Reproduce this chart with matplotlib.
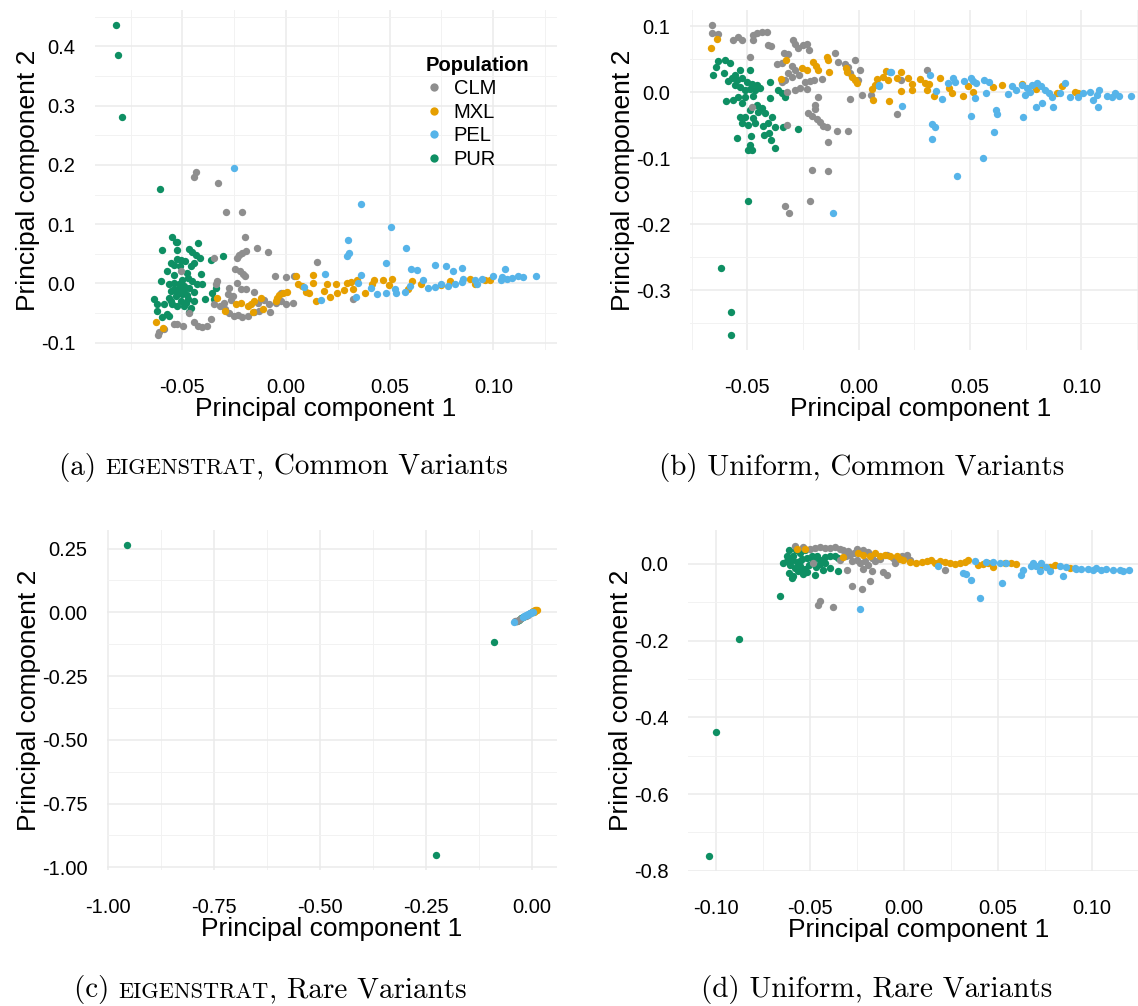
import matplotlib
matplotlib.use("Agg")
import matplotlib.pyplot as plt
from matplotlib.ticker import MultipleLocator, FormatStrFormatter
from matplotlib.lines import Line2D
from matplotlib.offsetbox import TextArea, HPacker, AnnotationBbox

plt.rcParams['font.family'] = ['Liberation Sans', 'DejaVu Sans']
plt.rcParams['axes.unicode_minus'] = False

# ---------------------------------------------------------------------------
# datos: (PC1, PC2) por poblacion y panel
# ---------------------------------------------------------------------------
pops = ["CLM", "MXL", "PEL", "PUR"]
colores = {"CLM": "#8E8E8E", "MXL": "#E69F00", "PEL": "#56B4E9", "PUR": "#0E8F63"}

# (a) EIGENSTRAT, comunes
a_pur_x = [-0.082, -0.081, -0.079, -0.0606, -0.0548, -0.0532, -0.0524, -0.0597, -0.0527, -0.0424, -0.0468,
           -0.0452, -0.0435, -0.0415, -0.0524, -0.0505, -0.0489, -0.0556, -0.0540, -0.0511, -0.0460, -0.0444,
           -0.0576, -0.0476, -0.0408, -0.0360, -0.0306, -0.0605, -0.0565, -0.0540, -0.0516, -0.0492,
           -0.0452, -0.0427, -0.0403, -0.0339, -0.0355, -0.0556, -0.0524, -0.0500, -0.0476, -0.0444, -0.0532,
           -0.0565, -0.0508, -0.0473, -0.0637, -0.0621, -0.0589, -0.0548, -0.0524, -0.0492, -0.0460, -0.0392,
           -0.0347, -0.0621, -0.0573, -0.0597, -0.0565, -0.0468, -0.0540, -0.0516, -0.0492, -0.0468, -0.0556,
           -0.0484, -0.0444, -0.0500, -0.0473, -0.0540]
a_pur_y = [0.435, 0.386, 0.281, 0.159, 0.0778, 0.0706, 0.0694, 0.0556, 0.0567, 0.0689, 0.0578,
           0.0539, 0.0483, 0.0428, 0.0411, 0.0389, 0.0372, 0.0344, 0.0317, 0.0289, 0.0289, 0.0344,
           0.0206, 0.0178, 0.0167, 0.0389, 0.0456, 0.0039, -0.0017, 0.0011, -0.0017, -0.0044,
           0.0039, -0.0017, -0.0017, -0.0072, -0.0156, -0.0128, -0.0156, -0.0183, -0.0200, -0.0144, -0.0211,
           -0.0239, -0.0294, -0.0267, -0.0267, -0.0350, -0.0350, -0.0350, -0.0378, -0.0378, -0.0406, -0.0267,
           -0.0267, -0.0461, -0.0517, -0.0572, -0.0544, -0.0489, -0.0100, -0.0089, -0.0111, -0.0072, -0.0294,
           -0.0322, -0.0294, 0.0067, 0.0094, 0.0150]
a_clm_x = [-0.0434, -0.0442, -0.0329, -0.0288, -0.0214, -0.0196, -0.0142, -0.0089, -0.0194, -0.0210,
           -0.0226, -0.0237, -0.0347, -0.0506, -0.0247, -0.0221, -0.0205, -0.0198, -0.0052, 0.0000,
           0.0040, 0.0150, -0.0331, -0.0339, -0.0274, -0.0234, -0.0218, -0.0194, -0.0156, -0.0282,
           -0.0258, -0.0266, -0.0298, -0.0318, -0.0295, -0.0274, -0.0253, -0.0231, -0.0210, -0.0185,
           -0.0156, -0.0129, -0.0105, -0.0076, -0.0137, -0.0081, -0.0048, -0.0024, 0.0000, 0.0032,
           -0.0347, -0.0468, -0.0524, -0.0495, -0.0444, -0.0424, -0.0403, -0.0379, -0.0363, -0.0540,
           -0.0589, -0.0613, -0.0618, 0.0323, -0.0024]
a_clm_y = [0.188, 0.180, 0.170, 0.120, 0.1206, 0.0778, 0.060, 0.0528, 0.055, 0.0522,
           0.0483, 0.0428, 0.0428, 0.0206, 0.025, 0.0206, 0.0167, 0.0133, 0.0122, 0.0106,
           0.0122, 0.0361, 0.0039, -0.0017, -0.0072, 0.0, -0.0089, -0.0089, -0.0144, -0.0183,
           -0.0211, -0.0278, -0.0322, -0.0378, -0.0433, -0.0500, -0.0544, -0.0533, -0.0572, -0.0544,
           -0.0489, -0.0461, -0.0278, -0.0489, -0.0322, -0.0350, -0.0322, -0.0294, -0.0350, -0.0333,
           -0.0350, -0.0500, -0.0683, -0.0711, -0.0656, -0.0711, -0.0739, -0.0711, -0.0600, -0.0683,
           -0.0767, -0.0811, -0.0861, -0.0267, -0.0156]
a_mxl_x = [-0.0629, -0.0594, -0.0334, -0.0295, -0.0242, -0.0218, -0.0185, -0.0169, -0.0153, -0.0121,
           -0.0161, -0.0113, -0.0044, -0.0032, -0.0016, 0.0005, -0.0048, 0.0048, 0.0060, 0.0076,
           0.0129, 0.0129, 0.0097, 0.0113, 0.0145, 0.0185, 0.0198, 0.0210, 0.0242, 0.0247,
           0.0282, 0.0295, 0.0315, 0.0344, 0.0323, 0.0379, 0.0415, 0.0424, 0.0469, 0.0495,
           0.0513, 0.0589, 0.0608, 0.0650, 0.0747, 0.0790, 0.0887, 0.0911, 0.0960, 0.0984]
a_mxl_y = [-0.0656, -0.0750, -0.0239, -0.0472, -0.0350, -0.0333, -0.0378, -0.0350, -0.0294, -0.0239,
           -0.0489, -0.0433, -0.0239, -0.0200, -0.0167, -0.0144, -0.0294, 0.0122, -0.0017, -0.0044,
           0.0139, 0.0, -0.0144, -0.0167, -0.0294, -0.0128, -0.0017, -0.0222, -0.0017, -0.0167,
           -0.0111, 0.0, 0.0022, 0.0067, -0.0089, -0.0167, -0.0017, 0.0056, 0.0067, -0.0033,
           0.0083, -0.0100, 0.0039, -0.0017, -0.0033, 0.0050, 0.0078, -0.0006, 0.0067, 0.0067]
a_pel_x = [-0.0249, 0.0363, 0.0508, 0.0581, 0.0298, 0.0303, 0.0295, 0.0484, 0.0605, 0.0634,
           0.0718, 0.0774, 0.0806, 0.0850, 0.1056, 0.0363, 0.0189, 0.0089, 0.0169, 0.0339,
           0.0347, 0.0411, 0.0440, 0.0484, 0.0524, 0.0532, 0.0573, 0.0597, 0.0661, 0.0685,
           0.0718, 0.0750, 0.0782, 0.0815, 0.0847, 0.0855, 0.0911, 0.0944, 0.1000, 0.1037,
           0.1065, 0.1089, 0.1118, 0.1145, 0.1206, 0.1040, 0.0919]
a_pel_y = [0.1944, 0.1333, 0.0956, 0.0594, 0.0733, 0.0511, 0.0467, 0.0344, 0.0250, 0.0222,
           0.0311, 0.0289, 0.0206, 0.0267, 0.0250, 0.0139, 0.0167, -0.0056, -0.0278, -0.0222,
           0.0011, -0.0072, -0.0183, -0.0156, -0.0100, -0.0167, -0.0144, -0.0044, 0.0067, -0.0072,
           -0.0056, -0.0017, -0.0044, -0.0017, 0.0022, 0.0078, 0.0067, 0.0078, 0.0122, 0.0067,
           0.0078, 0.0094, 0.0133, 0.0111, 0.0122, 0.0110, -0.0017]

# (b) Uniform, comunes
b_pur_x = [-0.0497, -0.0617, -0.0575, -0.0571, -0.063, -0.060, -0.0578, -0.0642, -0.0603, -0.0653,
           -0.0555, -0.0533, -0.0488, -0.057, -0.0585, -0.0548, -0.0525, -0.0503, -0.0481, -0.0458,
           -0.0555, -0.0533, -0.051, -0.0488, -0.0466, -0.0443, -0.0398, -0.0361, -0.0346, -0.0331,
           -0.0597, -0.0563, -0.054, -0.051, -0.0473, -0.0398, -0.0525, -0.0458, -0.0436, -0.0488,
           -0.0451, -0.0421, -0.0533, -0.051, -0.0473, -0.0391, -0.0525, -0.0496, -0.0466, -0.0428,
           -0.0406, -0.0376, -0.0338, -0.0274, -0.0548, -0.0484, -0.0424, -0.0403, -0.0394, -0.0488,
           -0.0481, -0.0496, -0.0376]
b_pur_y = [-0.165, -0.266, -0.334, -0.3675, 0.0473, 0.0493, 0.0442, 0.0382, 0.0292, 0.0256,
           0.0256, 0.0342, 0.0332, 0.0206, 0.0171, 0.0181, 0.0206, 0.0156, 0.0121, 0.0106,
           0.0106, 0.007, 0.003, 0.004, 0.003, 0.0055, 0.0156, 0.003, -0.002, -0.008,
           -0.0131, -0.0121, -0.008, -0.007, -0.006, -0.0096, -0.0171, -0.0196, -0.0246, -0.0271,
           -0.0297, -0.0322, -0.0372, -0.0382, -0.0397, -0.0372, -0.0473, -0.0498, -0.0473, -0.0513,
           -0.0473, -0.0533, -0.0533, -0.0563, -0.0699, -0.0664, -0.0649, -0.0623, -0.0724, -0.0799,
           -0.0875, -0.0875, -0.084]
b_clm_x = [-0.066, -0.066, -0.0633, -0.0563, -0.054, -0.0522, -0.0473, -0.0458, -0.0436, -0.0413,
           -0.0473, -0.0406, -0.0394, -0.0293, -0.0286, -0.0271, -0.0249, -0.0234, -0.0223, -0.0334,
           -0.0316, -0.0346, -0.0368, -0.0301, -0.0286, -0.0316, -0.0331, -0.0301, -0.0268, -0.0241,
           -0.0219, -0.0199, -0.0166, -0.0234, -0.0263, -0.0286, -0.0346, -0.0323, -0.0488, -0.0106,
           -0.0091, -0.0061, -0.0046, -0.0016, 0.0006, -0.0039, -0.0001, 0.0013, 0.0055, -0.0039,
           -0.0181, -0.0196, -0.0196, -0.0226, -0.0211, -0.0189, -0.0174, -0.0159, -0.0144, -0.0099,
           -0.0049, -0.0323, -0.0139, 0.0171, 0.0305, 0.019, -0.0208, -0.0136, -0.0481, -0.0332,
           -0.0312, -0.0218]
b_clm_y = [0.101, 0.0895, 0.0875, 0.0794, 0.0835, 0.0784, 0.086, 0.0895, 0.091, 0.091,
           0.0794, 0.0709, 0.0694, 0.0794, 0.0734, 0.0674, 0.0709, 0.0724, 0.0644, 0.0593,
           0.0573, 0.0442, 0.0432, 0.0392, 0.0342, 0.0282, 0.0181, 0.0231, 0.0256, 0.0156,
           0.0171, 0.0181, 0.0191, 0.004, 0.0055, 0.003, 0.0156, 0.0005, 0.0533, 0.0593,
           0.0458, 0.0432, 0.0382, 0.0483, 0.0342, 0.0282, 0.0181, -0.0045, -0.0045, -0.0111,
           -0.008, -0.0196, -0.0261, -0.0322, -0.0362, -0.0412, -0.0447, -0.0513, -0.0523, -0.0583,
           -0.0583, -0.0498, -0.0764, -0.0332, 0.0342, 0.0181, -0.1176, -0.1192, -0.0221, -0.173,
           -0.183, -0.165]
b_mxl_x = [-0.0663, -0.0638, -0.0328, -0.0349, -0.0256, -0.0234, -0.0204, -0.0193, -0.0181, -0.0144,
           -0.0136, -0.0133, -0.0058, -0.0054, -0.0031, -0.0016, -0.0009, 0.0081, 0.0111, 0.0121,
           0.0133, 0.0171, 0.019, 0.019, 0.0223, 0.0238, 0.0241, 0.0275, 0.0298, 0.0305,
           0.0316, 0.0365, 0.0406, 0.0418, 0.047, 0.049, 0.0515, 0.0605, 0.0642, 0.0735,
           0.0795, 0.0889, 0.0912, 0.0972, 0.0984, 0.0058, 0.0066, 0.0136, 0.034, 0.0073]
b_mxl_y = [0.0674, 0.0804, 0.0493, 0.0201, 0.0372, 0.0342, 0.0458, 0.0392, 0.0332, 0.0533,
           0.0483, 0.0307, 0.0372, 0.0307, 0.0231, 0.0181, 0.0141, 0.0191, 0.0231, 0.0322,
           0.0181, 0.0221, 0.0307, 0.002, 0.0221, 0.0121, 0.003, 0.0191, 0.0141, 0.003,
           0.0121, 0.0206, 0.0055, -0.002, -0.006, 0.009, 0.0005, 0.008, 0.0106, 0.0121,
           0.004, -0.002, 0.009, 0.0005, -0.001, 0.0045, -0.0121, -0.0131, -0.006, 0.0106]
b_pel_x = [-0.0117, 0.0092, 0.0141, 0.0145, 0.0091, 0.0196, 0.032, 0.0346, 0.0376, 0.0403,
           0.0425, 0.0433, 0.0475, 0.0504, 0.0515, 0.0525, 0.0522, 0.0564, 0.057, 0.0587,
           0.0503, 0.0615, 0.062, 0.0609, 0.056, 0.0443, 0.0328, 0.0343, 0.0331, 0.0669,
           0.0687, 0.0705, 0.0732, 0.0737, 0.0754, 0.0777, 0.0799, 0.0819, 0.0837, 0.0855,
           0.0867, 0.0825, 0.0795, 0.0874, 0.0904, 0.0927, 0.0949, 0.0987, 0.1009, 0.1039,
           0.1054, 0.1069, 0.1079, 0.1076, 0.1114, 0.1136, 0.1151, 0.1169, 0.1223, 0.0747,
           0.0769]
b_pel_y = [-0.183, 0.0101, 0.0306, 0.0297, 0.009, -0.0206, 0.0266, 0.002, -0.0111, 0.0141,
           0.0206, 0.0156, 0.0171, 0.0206, 0.0171, 0.0141, -0.0096, 0.0181, -0.001, 0.0156,
           -0.0362, -0.0271, -0.0332, -0.0598, -0.100, -0.1267, -0.0488, -0.0523, -0.0709, -0.003,
           0.009, 0.003, 0.0106, -0.0372, 0.0055, 0.0106, 0.0141, 0.009, 0.003, -0.002,
           -0.008, -0.0171, -0.0231, -0.0221, -0.001, 0.0141, -0.008, -0.008, -0.001, 0.0005,
           -0.0121, -0.0045, 0.003, -0.0231, -0.006, -0.008, -0.002, -0.006, -0.006, -0.0045,
           0.0005]

# (c) EIGENSTRAT, raras
c_pur_x = [-0.955, -0.227, -0.089, -0.036, -0.030, -0.025, -0.020]
c_pur_y = [0.262, -0.950, -0.117, -0.035, -0.030, -0.024, -0.020]
c_clm_x = [-0.040, -0.038, -0.034, -0.028, -0.015, -0.010, -0.005]
c_clm_y = [-0.036, -0.034, -0.033, -0.027, -0.013, -0.009, -0.004]
c_mxl_x = [0.000, 0.003, 0.005, 0.007, 0.009, 0.011, 0.008, 0.004]
c_mxl_y = [0.002, 0.004, 0.005, 0.007, 0.008, 0.010, 0.006, 0.003]
c_pel_x = [-0.042, -0.022, -0.018, -0.015, -0.012, -0.008, -0.005, -0.002, 0.000, 0.003]
c_pel_y = [-0.037, -0.017, -0.014, -0.011, -0.009, -0.006, -0.003, -0.001, 0.001, 0.003]

# (d) Uniform, raras
d_pur_x = [-0.066, -0.088, -0.0999, -0.1038, -0.061, -0.0574, -0.0621, -0.0589, -0.0553, -0.0527,
           -0.0621, -0.0598, -0.0571, -0.0544, -0.0518, -0.0491, -0.0465, -0.0447, -0.042, -0.0394,
           -0.0367, -0.0349, -0.0606, -0.058, -0.0553, -0.0527, -0.0504, -0.0468, -0.0447, -0.042,
           -0.061, -0.0589, -0.0562, -0.0535, -0.0514, -0.0473, -0.0429, -0.0394, -0.0349, -0.0598,
           -0.0535, -0.0642, -0.0553, -0.0482]
d_pur_y = [-0.084, -0.197, -0.437, -0.760, 0.0357, 0.0357, 0.0217, 0.020, 0.027, 0.0357,
           0.007, 0.0096, 0.0043, 0.013, 0.0157, 0.020, 0.0217, 0.0113, 0.0183, 0.020,
           0.0217, 0.0157, -0.0043, -0.0104, -0.0061, -0.013, -0.0043, -0.0078, -0.0017, 0.0026,
           -0.0235, -0.0322, -0.0191, -0.0252, -0.0217, -0.0278, -0.0165, -0.0104, -0.0174, -0.0365,
           -0.0148, 0.0026, 0.007, 0.007]
d_clm_x = [-0.058, -0.0535, -0.0473, -0.0447, -0.042, -0.0394, -0.0367, -0.034, -0.0323, -0.0296,
           -0.0287, -0.0266, -0.0252, -0.0216, -0.019, -0.0172, -0.0252, -0.0278, -0.0234, -0.0207,
           -0.019, -0.0216, -0.0172, -0.011, -0.0092, -0.0154, -0.0128, -0.0092, -0.0057, -0.0012,
           0.0014, 0.0032, -0.0048, -0.0482, -0.0305, -0.0181, -0.0278, -0.0225, -0.0447, -0.0456,
           -0.0376, 0.0218, -0.0309, -0.034, -0.050]
d_clm_y = [0.0478, 0.0443, 0.0417, 0.0443, 0.0417, 0.0417, 0.0443, 0.0391, 0.0357, 0.033,
           0.0243, 0.0287, 0.0374, 0.0357, 0.0304, 0.0157, 0.0113, 0.007, 0.0026, 0.007,
           -0.0043, -0.013, -0.0191, -0.0217, -0.0278, 0.007, 0.013, 0.0243, 0.0157, 0.0217,
           0.0243, 0.0113, 0.0009, 0.0026, -0.0165, -0.0452, -0.0583, -0.0652, -0.0974, -0.1061,
           -0.1122, -0.0165, 0.020, 0.0096, 0.0391]
d_mxl_x = [-0.0571, -0.0527, -0.0323, -0.0243, -0.0216, -0.0181, -0.0154, -0.0128, -0.0101, -0.0074,
           -0.0039, -0.0021, -0.0004, 0.0032, 0.0067, 0.0094, 0.0121, 0.0147, 0.0165, 0.0191,
           0.0218, 0.0245, 0.0271, 0.0298, 0.0324, 0.0342, 0.0395, 0.0422, 0.0449, 0.0475,
           0.0537, 0.0573, 0.0599, 0.0723, 0.0777, 0.0803, 0.0883]
d_mxl_y = [0.0374, 0.0391, 0.0183, 0.0287, 0.0243, 0.0217, 0.027, 0.0217, 0.0243, 0.020,
           0.0217, 0.013, 0.0113, 0.0043, 0.0026, 0.0043, 0.007, 0.0096, 0.0026, 0.007,
           0.0043, 0.0026, -0.0017, 0.0009, 0.0043, 0.0113, -0.0043, -0.0017, 0.0009, -0.0078,
           0.0009, 0.0026, -0.0009, -0.0061, -0.0078, -0.0043, -0.0104]
d_pel_x = [-0.0234, 0.0404, 0.052, 0.036, 0.0316, 0.0333, 0.0183, 0.0378, 0.044, 0.0475,
           0.051, 0.0546, 0.0626, 0.0635, 0.0688, 0.0706, 0.0732, 0.0723, 0.0759, 0.0777,
           0.083, 0.0848, 0.091, 0.0945, 0.098, 0.1025, 0.1051, 0.1078, 0.1113, 0.1149,
           0.1199, 0.0918, 0.1007, 0.0679, 0.0865, 0.1167]
d_pel_y = [-0.1174, -0.0887, -0.0496, -0.0426, -0.0235, -0.0252, -0.0061, 0.007, 0.0043, 0.0043,
           0.0026, 0.0009, -0.0278, -0.0148, 0.0009, -0.0061, 0.0009, -0.0191, -0.0078, -0.0191,
           -0.0061, -0.0304, -0.0104, -0.013, -0.013, -0.0104, -0.0148, -0.013, -0.0148, -0.0165,
           -0.0165, -0.013, -0.0148, -0.0061, -0.0078, -0.0191]

paneles = [
    {"datos": {"PUR": (a_pur_x, a_pur_y), "CLM": (a_clm_x, a_clm_y), "MXL": (a_mxl_x, a_mxl_y), "PEL": (a_pel_x, a_pel_y)},
     "caja": (95, 10, 462, 340), "paso": (0.05, 0.1), "fmt": ("%.2f", "%.1f"),
     "caption": ("(a) ", "EIGENSTRAT", ", Common Variants"), "cap_xy": (283, 467)},
    {"datos": {"PUR": (b_pur_x, b_pur_y), "CLM": (b_clm_x, b_clm_y), "MXL": (b_mxl_x, b_mxl_y), "PEL": (b_pel_x, b_pel_y)},
     "caja": (690, 10, 462, 340), "paso": (0.05, 0.1), "fmt": ("%.2f", "%.1f"),
     "caption": ("(b) Uniform, Common Variants", "", ""), "cap_xy": (862, 467)},
    {"datos": {"PUR": (c_pur_x, c_pur_y), "CLM": (c_clm_x, c_clm_y), "MXL": (c_mxl_x, c_mxl_y), "PEL": (c_pel_x, c_pel_y)},
     "caja": (107, 530, 450, 340), "paso": (0.25, 0.25), "fmt": ("%.2f", "%.2f"),
     "caption": ("(c) ", "EIGENSTRAT", ", Rare Variants"), "cap_xy": (270, 990)},
    {"datos": {"PUR": (d_pur_x, d_pur_y), "CLM": (d_clm_x, d_clm_y), "MXL": (d_mxl_x, d_mxl_y), "PEL": (d_pel_x, d_pel_y)},
     "caja": (688, 530, 462, 341), "paso": (0.05, 0.2), "fmt": ("%.2f", "%.1f"),
     "caption": ("(d) Uniform, Rare Variants", "", ""), "cap_xy": (877, 990)},
]

W, H = 1138, 1006
fig = plt.figure(figsize=(W / 100, H / 100), dpi=100)

for i, p in enumerate(paneles):
    x0, y0, w, h = p["caja"]
    ax = fig.add_axes([x0 / W, 1 - (y0 + h) / H, w / W, h / H])
    for pop in ["PUR", "CLM", "MXL", "PEL"]:
        xs, ys = p["datos"][pop]
        ax.scatter(xs, ys, s=28, color=colores[pop], linewidths=0, zorder=3)
    ax.margins(0.05)

    px, py = p["paso"]
    ax.xaxis.set_major_locator(MultipleLocator(px))
    ax.xaxis.set_minor_locator(MultipleLocator(px / 2))
    ax.yaxis.set_major_locator(MultipleLocator(py))
    ax.yaxis.set_minor_locator(MultipleLocator(py / 2))
    ax.xaxis.set_major_formatter(FormatStrFormatter(p["fmt"][0]))
    ax.yaxis.set_major_formatter(FormatStrFormatter(p["fmt"][1]))

    ax.grid(which="major", color="#EBEBEB", linewidth=1.1, zorder=0)
    ax.grid(which="minor", color="#F2F2F2", linewidth=0.7, zorder=0)
    ax.set_axisbelow(True)
    for s in ax.spines.values():
        s.set_visible(False)
    ax.tick_params(which="both", length=0, labelsize=14.5, colors="black")
    ax.tick_params(axis="x", pad=20)
    ax.tick_params(axis="y", pad=14)
    ax.set_xlabel("Principal component 1", fontsize=19, labelpad=0)
    ax.set_ylabel("Principal component 2", fontsize=19, labelpad=1)

    if i == 0:
        handles = [Line2D([], [], marker="o", linestyle="none", markersize=6,
                          markerfacecolor=colores[k], markeredgewidth=0) for k in pops]
        ax.legend(handles, pops, title="Population", loc="upper left",
                  bbox_to_anchor=(0.715, 0.865), frameon=False, fontsize=14.5,
                  title_fontproperties={"weight": "bold", "size": 14.5},
                  handlelength=0.9, handletextpad=0.5, labelspacing=0.22,
                  borderpad=0, borderaxespad=0, alignment="left")

    # pie de figura estilo LaTeX (versalitas simuladas con mayusculas pequeñas)
    t1, t2, t3 = p["caption"]
    partes = [TextArea(t1, textprops={"family": "cmr10", "size": 21})]
    if t2:
        partes.append(TextArea(t2, textprops={"family": "cmr10", "size": 16}))
        partes.append(TextArea(t3, textprops={"family": "cmr10", "size": 21}))
    caja = HPacker(children=partes, align="baseline", pad=0, sep=0)
    cx, cy = p["cap_xy"]
    ab = AnnotationBbox(caja, (cx / W, 1 - cy / H), xycoords="figure fraction",
                        frameon=False, box_alignment=(0.5, 0.5), pad=0)
    fig.add_artist(ab)

fig.savefig("out.png", dpi=100)
